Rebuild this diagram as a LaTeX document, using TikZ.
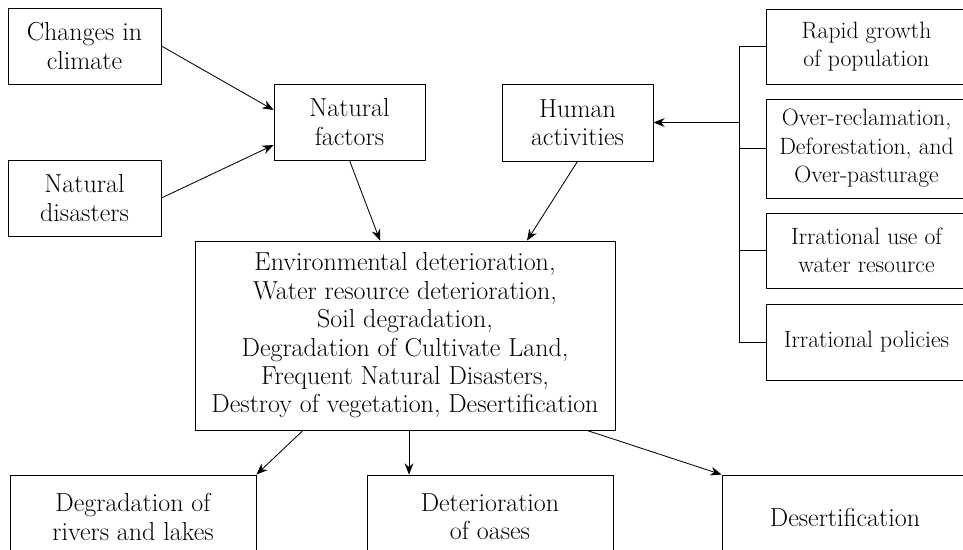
\documentclass[tikz,border=0pt]{standalone}
\usetikzlibrary{arrows.meta, calc}

\tikzset{
  box/.style={draw, line width=0.6pt, align=center, inner sep=0pt,
    font=\fontsize{18.5}{20.2}\selectfont},
  side/.style={box, minimum width=50.25mm, font=\fontsize{16.8}{20.2}\selectfont},
  link/.style={-{Stealth[length=2.8mm, width=2.2mm]}, line width=0.6pt},
}

\begin{document}
\begin{tikzpicture}[x=0.25mm, y=-0.25mm]
\useasboundingbox (0,0) rectangle (963,549);
\clip (0,0) rectangle (963,549);

% Natural side
\node[box, minimum width=38.25mm, minimum height=19mm] (clim) at (84.5,46) {Changes in\\climate};
\node[box, minimum width=38.25mm, minimum height=19mm] (dis) at (84.5,198) {Natural\\disasters};
\node[box, minimum width=37.75mm, minimum height=19mm] (nat) at (349.5,122) {Natural\\factors};

% Human side
\node[box, minimum width=37.75mm, minimum height=19.25mm] (hum) at (577.5,122.5) {Human\\activities};
\node[side, minimum height=18.75mm] (r1) at (866.5,46.5) {Rapid growth\\of population};
\node[side, minimum height=24.75mm] (r2) at (866.5,148.5) {Over-reclamation,\\Deforestation, and\\Over-pasturage};
\node[side, minimum height=18.75mm] (r3) at (866.5,250.5) {Irrational use of\\water resource};
\node[side, minimum height=19mm] (r4) at (866.5,342) {Irrational policies};
\coordinate (brk) at (739,0);

% Results
\node[box, minimum width=105mm, minimum height=47.25mm] (big) at (405,335.5) {Environmental deterioration,\\Water resource deterioration,\\Soil degradation,\\Degradation of Cultivate Land,\\Frequent Natural Disasters,\\Destroy of vegetation, Desertification};
\node[box, minimum width=61.5mm, minimum height=21mm] (rivr) at (133,517) {Degradation of\\rivers and lakes};
\node[box, minimum width=61.5mm, minimum height=21mm] (oasis) at (490,517) {Deterioration\\of oases};
\node[box, minimum width=61.5mm, minimum height=21mm] (desr) at (845,517) {Desertification};

% Connectors
\draw[link] (clim.east) -- ([yshift=3mm]nat.west);
\draw[link] (dis.east) -- ([yshift=-5.75mm]nat.west);
\draw[link] (nat.south) -- ([xshift=-6.25mm]big.north);
\draw[link] (hum.south) -- ([xshift=30.5mm]big.north);

\draw[line width=0.6pt] (brk |- r1.west) -- (brk |- r4.west);
\foreach \n in {r1,r2,r3,r4}
  \draw[line width=0.6pt] (brk |- \n.west) -- (\n.west);
\draw[link] (brk |- hum.east) -- (hum.east);

\draw[link] ([xshift=-25.5mm]big.south) -- (rivr.north east);
\draw[link] ([xshift=1mm]big.south) -- ([xshift=1mm]big.south |- oasis.north);
\draw[link] ([xshift=45.5mm]big.south) -- (desr.north west);
\end{tikzpicture}
\end{document}
